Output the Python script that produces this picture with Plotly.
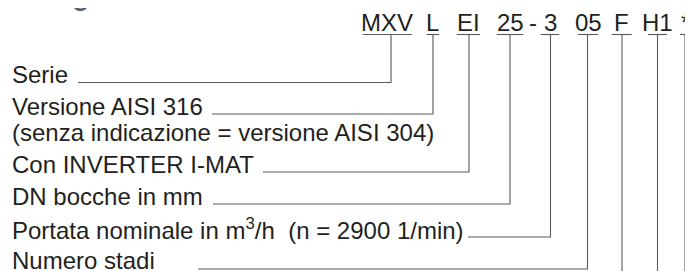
import plotly.graph_objects as go

# ---- content ----
title_text = "Designazione"
code_tokens = ["MXV", "L", "EI", "25", "3", "05", "F", "H1", "*"]
code_separator = "-"
labels = ["Serie",
          "Versione AISI 316",
          "(senza indicazione = versione AISI 304)",
          "Con INVERTER I-MAT",
          "DN bocche in mm",
          "Portata nominale in m<sup>3</sup>/h\u00a0\u00a0(n = 2900 1/min)",
          "Numero stadi"]
# which code token each label points to (None = explanatory line only)
label_token = [0, 1, None, 2, 3, 4, 5]

# ---- layout (window pixel coordinates of the drawing) ----
WIN_W, WIN_H = 693, 271
PAGE_OFF = 8  # default body margin of the html page
token_left = [362.7, 426.7, 456.7, 496.7, 540.7, 578.0, 611.7, 648.0, 680.0]
token_right = [411.7, 439.0, 480.0, 523.3, 559.3, 598.0, 631.7, 667.0, 690.0]
stem_x = [391, 433, 469, 510, 550.5, 587.5, 622, 657.5, 685]
sep_x = 532.5
code_mid = 22.5
underline_y = 34.5
label_x = 10
label_base = [81.5, 113.5, 139.5, 171.5, 203.5, 236.0, 268.0]
leader_start = [78, 212, None, 263, 213, 468, 198]
leader_y = [82.5, 114, None, 172, 204, 237, 269]

TEXT = "#231f20"
LINE = "#5a5a5a"

fig = go.Figure()

used = set()
for i, t in enumerate(label_token):
    if t is None:
        continue
    used.add(t)
    fig.add_trace(go.Scatter(
        x=[leader_start[i], stem_x[t], stem_x[t]],
        y=[leader_y[i], leader_y[i], underline_y],
        mode="lines", line=dict(color=LINE, width=1.1),
        hoverinfo="skip", showlegend=False))
for t in range(len(code_tokens)):
    if t in used:
        continue
    fig.add_trace(go.Scatter(
        x=[stem_x[t], stem_x[t]], y=[WIN_H + 5, underline_y],
        mode="lines", line=dict(color=LINE, width=1.1),
        hoverinfo="skip", showlegend=False))
for t in range(len(code_tokens)):
    fig.add_trace(go.Scatter(
        x=[token_left[t], token_right[t]], y=[underline_y, underline_y],
        mode="lines", line=dict(color=LINE, width=1.1),
        hoverinfo="skip", showlegend=False))

annotations = []
code_font = dict(family="Liberation Sans, Arial, Helvetica", size=24, color=TEXT)
for t, tok in enumerate(code_tokens):
    annotations.append(dict(
        x=(token_left[t] + token_right[t]) / 2, y=code_mid,
        xref="x", yref="y", text=tok, showarrow=False,
        xanchor="center", yanchor="middle", font=code_font))
annotations.append(dict(x=sep_x, y=code_mid, xref="x", yref="y",
                        text=code_separator, showarrow=False,
                        xanchor="center", yanchor="middle", font=code_font))

label_font = dict(family="Liberation Sans, Arial, Helvetica", size=24, color=TEXT)
for i, lab in enumerate(labels):
    annotations.append(dict(
        x=label_x, y=label_base[i] - 7.5,
        xref="x", yref="y", text=lab, showarrow=False,
        xanchor="left", yanchor="middle", font=label_font))

fig_w, fig_h = WIN_W - PAGE_OFF, WIN_H - PAGE_OFF

# title, mostly above the visible area (only the descender shows)
annotations.append(dict(x=(11 - PAGE_OFF) / fig_w, y=1 - 5 / fig_h, xref="paper", yref="paper",
                        text="<b>" + title_text + "</b>",
                        showarrow=False, xanchor="left", yanchor="bottom",
                        font=dict(family="Liberation Sans, Arial", size=28, color="#56636e")))

fig.update_layout(
    width=fig_w, height=fig_h,
    margin=dict(l=0, r=0, t=0, b=0),
    paper_bgcolor="white", plot_bgcolor="white",
    xaxis=dict(range=[PAGE_OFF, WIN_W], visible=False, fixedrange=True),
    yaxis=dict(range=[WIN_H, PAGE_OFF], visible=False, fixedrange=True),
    annotations=annotations,
)

fig.write_html("out.html")
